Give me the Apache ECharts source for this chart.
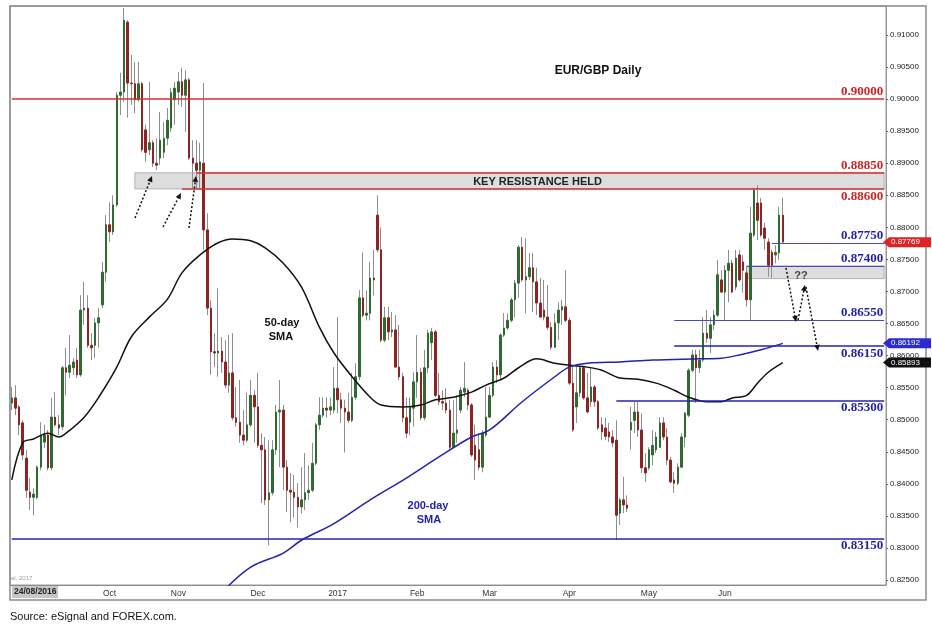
<!DOCTYPE html>
<html>
<head>
<meta charset="utf-8">
<title>EUR/GBP Daily</title>
<script src="https://cdn.jsdelivr.net/npm/echarts@6.0.0/dist/echarts.min.js"></script>
<style>
  html, body { margin: 0; padding: 0; background: #fff; }
  #chart { width: 932px; height: 634px; }
</style>
</head>
<body>
<div id="chart"></div>
<script>
// daily candles, [open, close, low, high]
const sepCandles = [
  [0.8526,0.8534,0.8515,0.8551],[0.8534,0.8518,0.8507,0.8554],[0.8520,0.8492,0.8476,0.8523],[0.8495,0.8445,0.8437,0.8499],
  [0.8440,0.8390,0.8378,0.8453],[0.8387,0.8379,0.8359,0.8409],[0.8379,0.8384,0.8351,0.8393],[0.8379,0.8426,0.8376,0.8429],
  [0.8426,0.8476,0.8421,0.8496],[0.8465,0.8476,0.8456,0.8492],[0.8476,0.8425,0.8421,0.8484],[0.8425,0.8504,0.8421,0.8534],
  [0.8504,0.8492,0.8489,0.8543],[0.8492,0.8487,0.8476,0.8507],[0.8489,0.8581,0.8484,0.8584],[0.8581,0.8574,0.8538,0.8612],
  [0.8574,0.8585,0.8565,0.8632],[0.8581,0.8590,0.8570,0.8596],[0.8593,0.8570,0.8565,0.8612],[0.8570,0.8671,0.8567,0.8694],
  [0.8671,0.8674,0.8648,0.8715],[0.8674,0.8616,0.8612,0.8694],[0.8616,0.8612,0.8593,0.8635],[0.8616,0.8651,0.8596,0.8659],
  [0.8651,0.8659,0.8612,0.8674],[0.8679,0.8730,0.8674,0.8746],[0.8730,0.8804,0.8715,0.8819]
];
const octCandles = [
  [0.8804,0.8793,0.8777,0.8839],[0.8793,0.8835,0.8788,0.8850],[0.8835,0.9006,0.8832,0.9011],[0.9006,0.9011,0.8975,0.9041],
  [0.9011,0.9123,0.8996,0.9142],[0.9120,0.9025,0.8971,0.9123],[0.9025,0.9024,0.8991,0.9069],[0.9024,0.8999,0.8978,0.9058],
  [0.8999,0.9024,0.8996,0.9058],[0.9024,0.8921,0.8917,0.9027],[0.8952,0.8917,0.8902,0.8960],[0.8921,0.8932,0.8913,0.9027],
  [0.8932,0.8900,0.8894,0.8936],[0.8900,0.8897,0.8889,0.8939],[0.8908,0.8936,0.8897,0.8980],[0.8917,0.8939,0.8908,0.8964],
  [0.8939,0.8967,0.8928,0.8986],[0.8955,0.9010,0.8949,0.9017],[0.8999,0.9017,0.8960,0.9027]
];
const novCandles = [
  [0.9011,0.9027,0.8991,0.9042],[0.9027,0.9006,0.8988,0.9049],[0.9006,0.9030,0.8949,0.9045],[0.9030,0.8908,0.8905,0.9033],
  [0.8908,0.8900,0.8861,0.8936],[0.8900,0.8889,0.8861,0.8936],[0.8889,0.8902,0.8861,0.8932],[0.8900,0.8796,0.8765,0.9025],
  [0.8796,0.8674,0.8663,0.8822],[0.8674,0.8606,0.8570,0.8687],[0.8606,0.8604,0.8582,0.8635],[0.8604,0.8607,0.8567,0.8705],
  [0.8607,0.8590,0.8573,0.8629],[0.8590,0.8554,0.8549,0.8624],[0.8554,0.8573,0.8542,0.8632],[0.8573,0.8503,0.8499,0.8635],
  [0.8503,0.8496,0.8489,0.8551],[0.8496,0.8476,0.8464,0.8562],[0.8476,0.8468,0.8460,0.8515],[0.8468,0.8492,0.8465,0.8542],
  [0.8492,0.8538,0.8489,0.8562],[0.8538,0.8520,0.8464,0.8546]
];
const decCandles = [
  [0.8520,0.8460,0.8456,0.8573],[0.8460,0.8453,0.8370,0.8479],[0.8453,0.8375,0.8367,0.8473],[0.8375,0.8386,0.8304,0.8468],
  [0.8386,0.8453,0.8382,0.8468],[0.8453,0.8512,0.8445,0.8523],[0.8512,0.8515,0.8426,0.8562],[0.8515,0.8426,0.8390,0.8523],
  [0.8426,0.8390,0.8356,0.8437],[0.8390,0.8387,0.8340,0.8417],[0.8387,0.8379,0.8348,0.8414],[0.8379,0.8364,0.8332,0.8401],
  [0.8364,0.8375,0.8354,0.8426],[0.8375,0.8386,0.8359,0.8448],[0.8386,0.8390,0.8375,0.8429],[0.8390,0.8432,0.8387,0.8464],
  [0.8432,0.8492,0.8429,0.8495],[0.8492,0.8507,0.8484,0.8535],[0.8507,0.8518,0.8503,0.8535],[0.8518,0.8515,0.8503,0.8535],
  [0.8515,0.8520,0.8507,0.8535],[0.8515,0.8549,0.8510,0.8582]
];
const janCandles = [
  [0.8549,0.8531,0.8510,0.8660],[0.8531,0.8518,0.8495,0.8542],[0.8518,0.8512,0.8449,0.8531],[0.8512,0.8499,0.8495,0.8542],
  [0.8499,0.8535,0.8496,0.8573],[0.8535,0.8567,0.8531,0.8588],[0.8567,0.8690,0.8562,0.8702],[0.8690,0.8663,0.8660,0.8761],
  [0.8663,0.8666,0.8655,0.8702],[0.8666,0.8721,0.8655,0.8746],[0.8721,0.8718,0.8694,0.8765],[0.8819,0.8765,0.8761,0.8850],
  [0.8765,0.8624,0.8621,0.8800],[0.8624,0.8659,0.8621,0.8676],[0.8659,0.8637,0.8624,0.8676],[0.8637,0.8640,0.8629,0.8668],
  [0.8640,0.8582,0.8581,0.8663],[0.8582,0.8567,0.8562,0.8648],[0.8567,0.8503,0.8496,0.8573],[0.8503,0.8479,0.8471,0.8535],
  [0.8496,0.8520,0.8476,0.8535],[0.8518,0.8559,0.8489,0.8574]
];
const febCandles = [
  [0.8559,0.8574,0.8534,0.8632],[0.8574,0.8503,0.8499,0.8581],[0.8503,0.8581,0.8499,0.8609],[0.8581,0.8635,0.8573,0.8640],
  [0.8620,0.8637,0.8593,0.8643],[0.8637,0.8538,0.8535,0.8640],[0.8538,0.8528,0.8523,0.8573],[0.8528,0.8526,0.8515,0.8546],
  [0.8526,0.8515,0.8510,0.8549],[0.8515,0.8457,0.8454,0.8531],[0.8457,0.8479,0.8456,0.8531],[0.8479,0.8484,0.8464,0.8538],
  [0.8515,0.8546,0.8510,0.8551],[0.8543,0.8549,0.8535,0.8590],[0.8546,0.8523,0.8515,0.8549],[0.8523,0.8445,0.8442,0.8526],
  [0.8460,0.8437,0.8406,0.8492],[0.8453,0.8426,0.8421,0.8479],[0.8426,0.8479,0.8418,0.8484],[0.8476,0.8504,0.8473,0.8551]
];
const marCandles = [
  [0.8504,0.8538,0.8503,0.8551],[0.8538,0.8582,0.8535,0.8590],[0.8582,0.8570,0.8557,0.8593],[0.8570,0.8632,0.8562,0.8635],
  [0.8632,0.8643,0.8629,0.8666],[0.8643,0.8655,0.8640,0.8666],[0.8655,0.8687,0.8652,0.8690],[0.8687,0.8713,0.8660,0.8718],
  [0.8713,0.8769,0.8690,0.8772],[0.8769,0.8718,0.8715,0.8785],[0.8718,0.8723,0.8666,0.8783],[0.8723,0.8737,0.8718,0.8760],
  [0.8737,0.8715,0.8668,0.8760],[0.8715,0.8682,0.8663,0.8737],[0.8682,0.8660,0.8659,0.8721],[0.8671,0.8660,0.8655,0.8718],
  [0.8660,0.8644,0.8640,0.8710],[0.8644,0.8613,0.8609,0.8652],[0.8613,0.8651,0.8612,0.8666],[0.8651,0.8671,0.8624,0.8683],
  [0.8671,0.8676,0.8648,0.8687],[0.8676,0.8655,0.8652,0.8733]
];
const aprCandles = [
  [0.8655,0.8557,0.8554,0.8659],[0.8557,0.8484,0.8481,0.8585],[0.8520,0.8542,0.8495,0.8582],[0.8542,0.8581,0.8535,0.8582],
  [0.8581,0.8534,0.8531,0.8584],[0.8534,0.8512,0.8510,0.8573],[0.8528,0.8551,0.8520,0.8582],[0.8551,0.8528,0.8520,0.8554],
  [0.8528,0.8487,0.8484,0.8531],[0.8492,0.8481,0.8468,0.8504],[0.8487,0.8474,0.8468,0.8503],[0.8481,0.8473,0.8465,0.8495],
  [0.8473,0.8464,0.8457,0.8484],[0.8468,0.8351,0.8312,0.8499],[0.8354,0.8375,0.8336,0.8378],[0.8375,0.8367,0.8354,0.8411],
  [0.8367,0.8362,0.8356,0.8382],[0.8484,0.8496,0.8453,0.8520],[0.8499,0.8512,0.8479,0.8528],[0.8512,0.8484,0.8473,0.8528],
  [0.8484,0.8425,0.8417,0.8510]
];
const mayCandles = [
  [0.8425,0.8417,0.8403,0.8448],[0.8425,0.8453,0.8421,0.8457],[0.8445,0.8460,0.8429,0.8484],[0.8453,0.8473,0.8448,0.8481],
  [0.8457,0.8495,0.8456,0.8504],[0.8495,0.8473,0.8468,0.8504],[0.8473,0.8437,0.8429,0.8487],[0.8437,0.8403,0.8401,0.8442],
  [0.8406,0.8401,0.8386,0.8418],[0.8401,0.8426,0.8398,0.8432],[0.8426,0.8473,0.8425,0.8479],[0.8473,0.8510,0.8457,0.8512],
  [0.8507,0.8577,0.8504,0.8580],[0.8577,0.8601,0.8574,0.8609],[0.8601,0.8581,0.8526,0.8609],[0.8581,0.8593,0.8573,0.8609],
  [0.8593,0.8635,0.8590,0.8660],[0.8635,0.8627,0.8620,0.8671],[0.8627,0.8648,0.8604,0.8660],[0.8648,0.8663,0.8640,0.8671],
  [0.8663,0.8726,0.8660,0.8749],[0.8718,0.8699,0.8698,0.8733]
];
const junCandles = [
  [0.8699,0.8733,0.8655,0.8741],[0.8733,0.8744,0.8683,0.8765],[0.8744,0.8699,0.8698,0.8749],[0.8707,0.8752,0.8702,0.8765],
  [0.8757,0.8718,0.8715,0.8765],[0.8746,0.8733,0.8698,0.8757],[0.8729,0.8687,0.8676,0.8738],[0.8687,0.8791,0.8655,0.8832],
  [0.8788,0.8858,0.8785,0.8861],[0.8838,0.8811,0.8780,0.8866],[0.8838,0.8788,0.8785,0.8846],[0.8799,0.8783,0.8765,0.8807],
  [0.8777,0.8741,0.8723,0.8783],[0.8761,0.8741,0.8721,0.8765],[0.8757,0.8761,0.8744,0.8772],[0.8760,0.8819,0.8749,0.8832],
  [0.8819,0.8777,0.8776,0.8846]
];

// moving averages as [bar index, value]
const sma50 = [
  [0,0.8406],[3,0.8464],[6,0.8470],[10,0.8479],[13,0.8473],[15,0.8479],[20,0.8504],[24,0.8535],[29,0.8582],
  [33,0.8629],[38,0.8660],[43,0.8688],[47,0.8729],[52,0.8757],[57,0.8776],[61,0.8782],[66,0.8779],[70,0.8768],
  [75,0.8744],[80,0.8707],[85,0.8644],[89,0.8604],[94,0.8567],[99,0.8535],[102,0.8523],[108,0.8520],[113,0.8523],
  [117,0.8531],[122,0.8535],[127,0.8543],[131,0.8554],[136,0.8565],[140,0.8581],[145,0.8595],[150,0.8588],
  [154,0.8585],[159,0.8582],[163,0.8577],[168,0.8565],[173,0.8563],[178,0.8557],[183,0.8546],[187,0.8535],
  [192,0.8528],[196,0.8528],[199,0.8534],[203,0.8538],[206,0.8557],[209,0.8574],[213,0.8589]
];
const sma200 = [
  [59,0.8236],[66,0.8270],[75,0.8292],[80,0.8312],[89,0.8338],[99,0.8375],[109,0.8409],[118,0.8442],[127,0.8473],
  [132,0.8484],[141,0.8528],[150,0.8567],[154,0.8582],[159,0.8588],[168,0.8590],[177,0.8593],[190,0.8595],
  [196,0.8596],[201,0.8601],[207,0.8609],[213,0.8619]
];

// horizontal levels drawn on the chart
const levels = [
  { value: 0.9000, from: 0, kind: 'res', side: 'top' },
  { value: 0.8885, from: 51, kind: 'res', side: 'top' },
  { value: 0.8860, from: 47, kind: 'res', side: 'bottom' },
  { value: 0.8775, from: 210, kind: 'minor', side: 'top' },
  { value: 0.8740, from: 203, kind: 'minor', side: 'top' },
  { value: 0.8720, from: 203, kind: 'hidden', side: 'bottom' },
  { value: 0.8655, from: 183, kind: 'minor', side: 'top' },
  { value: 0.8615, from: 183, kind: 'sup', side: 'bottom' },
  { value: 0.8530, from: 167, kind: 'sup', side: 'bottom' },
  { value: 0.8315, from: 0, kind: 'sup', side: 'bottom' }
];
const zones = [
  { from: 34, top: 0.8885, bottom: 0.8860, text: 'KEY RESISTANCE HELD' },
  { from: 203, top: 0.8740, bottom: 0.8720, text: '' }
];
const priceTags = [
  { value: 0.87769, color: '#dd2323' },
  { value: 0.86192, color: '#2b2bcf' },
  { value: 0.85893, color: '#111111' }
];

const slotCount = 242;
const monthTicks = [27, 46, 68, 90, 112, 132, 154, 176, 197];
const monthNames = ['Oct', 'Nov', 'Dec', '2017', 'Feb', 'Mar', 'Apr', 'May', 'Jun'];
const yTicks = [0.825, 0.83, 0.835, 0.84, 0.845, 0.85, 0.855, 0.86, 0.865, 0.87, 0.875,
  0.88, 0.885, 0.89, 0.895, 0.9, 0.905, 0.91];
const yMin = 0.82422;
const yMax = 0.91452;

const candles = [].concat(sepCandles, octCandles, novCandles, decCandles, janCandles,
  febCandles, marCandles, aprCandles, mayCandles, junCandles);
const bodies = candles.map(d => [d[0], d[1], Math.min(d[0], d[1]), Math.max(d[0], d[1])]);
const cats = Array.from({ length: slotCount }, (_, i) => String(i));
const monthAt = {};
monthTicks.forEach((t, k) => { monthAt[t] = monthNames[k]; });

const RED = '#cf2424';
const BLUE = '#1f1fae';
const lineStyles = {
  res: { color: '#d43131', width: 1.5, opacity: 1 },
  sup: { color: '#2323b3', width: 1.6, opacity: 1 },
  minor: { color: '#4b4bc4', width: 1, opacity: 1 },
  hidden: { color: '#fff', width: 0, opacity: 0 }
};

const chart = echarts.init(document.getElementById('chart'));

const option = {
  animation: false,
  backgroundColor: '#fff',
  grid: { left: 10, right: 46, top: 6, bottom: 49, show: true, borderColor: '#9a9a9a', borderWidth: 1 },
  xAxis: {
    type: 'category',
    data: cats,
    boundaryGap: true,
    axisLine: { lineStyle: { color: '#8c8c8c' } },
    axisTick: { alignWithLabel: true, interval: i => monthAt[i] !== undefined, length: 3, lineStyle: { color: '#777' } },
    axisLabel: {
      interval: i => monthAt[i] !== undefined,
      formatter: (v, i) => monthAt[i] || '',
      fontSize: 8.5, color: '#333', margin: 4, fontFamily: 'Liberation Sans, Arial'
    },
    splitLine: { show: false }
  },
  yAxis: {
    type: 'value',
    position: 'right',
    min: yMin,
    max: yMax,
    axisLine: { show: true, lineStyle: { color: '#9a9a9a' } },
    axisTick: { show: true, length: 2, customValues: yTicks, lineStyle: { color: '#666' } },
    axisLabel: {
      customValues: yTicks,
      formatter: v => v.toFixed(5),
      fontSize: 8, color: '#222', margin: 4, fontFamily: 'Liberation Sans, Arial'
    },
    splitLine: { show: false }
  },
  series: [
    {
      type: 'line', data: [], silent: true, z: 1,
      markArea: {
        silent: true,
        data: zones.map(zn => [
          {
            coord: [cats[zn.from], zn.top],
            itemStyle: { color: '#dddddd', borderColor: '#b3b3b3', borderWidth: 1 },
            label: {
              show: !!zn.text, position: 'inside', offset: [28, 1], formatter: zn.text,
              fontFamily: 'Liberation Sans, Arial', fontWeight: 'bold', fontSize: 11, color: '#222'
            }
          },
          { coord: [cats[slotCount - 1], zn.bottom] }
        ])
      }
    },
    {
      name: 'wicks', type: 'candlestick', data: candles, barWidth: 1, z: 2,
      itemStyle: { color: '#8e8e8e', color0: '#8e8e8e', borderColor: '#8e8e8e', borderColor0: '#8e8e8e', borderWidth: 1 }
    },
    {
      name: 'bodies', type: 'candlestick', data: bodies, barWidth: 2, z: 3,
      itemStyle: { color: '#2f6a30', color0: '#8c2424', borderColor: '#2f6a30', borderColor0: '#8c2424', borderWidth: 1 }
    },
    {
      name: '50-day SMA', type: 'line', data: sma50, smooth: 0.35, showSymbol: false, z: 4,
      lineStyle: { color: '#111', width: 1.5 }
    },
    {
      name: '200-day SMA', type: 'line', data: sma200, smooth: 0.35, showSymbol: false, z: 4,
      lineStyle: { color: '#2222b0', width: 1.5 }
    },
    {
      type: 'line', data: [], silent: true, z: 5,
      markLine: {
        silent: true,
        symbol: ['none', 'none'],
        data: levels.map(l => [
          {
            coord: [cats[l.from], l.value],
            lineStyle: Object.assign({ type: 'solid' }, lineStyles[l.kind]),
            label: {
              show: true,
              position: l.side === 'top' ? 'insideEndTop' : 'insideEndBottom',
              distance: 1,
              formatter: l.value.toFixed(5),
              color: l.kind === 'res' ? RED : BLUE,
              fontFamily: 'Liberation Serif, Times New Roman, serif',
              fontWeight: 'bold',
              fontSize: 13
            }
          },
          { coord: [cats[slotCount - 1], l.value] }
        ])
      }
    }
  ]
};

chart.setOption(option);

function txt(x, y, text, font, fill, align) {
  return {
    type: 'text', x, y, z: 50,
    style: { text, font, fill, textAlign: align || 'center', textVerticalAlign: 'middle' }
  };
}

function dottedArrow(x1, y1, x2, y2) {
  const a = Math.atan2(y2 - y1, x2 - x1);
  const len = 6, w = 2.8;
  const bx = x2 - len * Math.cos(a), by = y2 - len * Math.sin(a);
  const px = -Math.sin(a) * w, py = Math.cos(a) * w;
  return [
    { type: 'line', z: 50, shape: { x1, y1, x2: bx, y2: by }, style: { stroke: '#111', lineWidth: 1.5, lineDash: [2, 2] } },
    { type: 'polygon', z: 50, shape: { points: [[x2, y2], [bx + px, by + py], [bx - px, by - py]] }, style: { fill: '#111' } }
  ];
}

const graphics = [
  { type: 'rect', z: 40, shape: { x: 10, y: 6, width: 916, height: 594 }, style: { fill: 'none', stroke: '#8a8a8a', lineWidth: 1.5 } },
  { type: 'rect', z: 41, shape: { x: 12, y: 586, width: 46, height: 12 }, style: { fill: '#c6c6c6' } },
  txt(14, 592, '24/08/2016', 'bold 8.5px Liberation Sans, Arial', '#222', 'left'),
  txt(11, 578, 'al, 2017', '6px Liberation Sans, Arial', '#a0a0a0', 'left'),
  txt(598, 71, 'EUR/GBP Daily', 'bold 12px Liberation Sans, Arial', '#111'),
  txt(282, 323, '50-day', 'bold 11px Liberation Sans, Arial', '#111'),
  txt(281, 337, 'SMA', 'bold 11px Liberation Sans, Arial', '#111'),
  txt(428, 506, '200-day', 'bold 11px Liberation Sans, Arial', '#1f1fa8'),
  txt(429, 520, 'SMA', 'bold 11px Liberation Sans, Arial', '#1f1fa8'),
  txt(801, 276, '??', 'bold 11px Liberation Sans, Arial', '#444'),
  txt(10, 617, 'Source: eSignal and FOREX.com.', '11px Liberation Sans, Arial', '#111', 'left')
].concat(
  dottedArrow(135, 218, 152, 176),
  dottedArrow(163, 227, 181, 193),
  dottedArrow(189, 228, 196, 176),
  dottedArrow(786, 268, 796, 322),
  dottedArrow(798, 320, 805, 285),
  dottedArrow(806, 287, 818, 351)
);

priceTags.forEach(t => {
  const y = chart.convertToPixel({ yAxisIndex: 0 }, t.value);
  graphics.push({
    type: 'polygon', z: 60,
    shape: { points: [[883, y], [889, y - 5], [931, y - 5], [931, y + 5], [889, y + 5]] },
    style: { fill: t.color }
  });
  graphics.push({
    type: 'text', x: 891, y: y, z: 61,
    style: { text: t.value.toFixed(5), font: '8px Liberation Sans, Arial', fill: '#fff', textAlign: 'left', textVerticalAlign: 'middle' }
  });
});

chart.setOption({ graphic: graphics });
</script>
</body>
</html>
